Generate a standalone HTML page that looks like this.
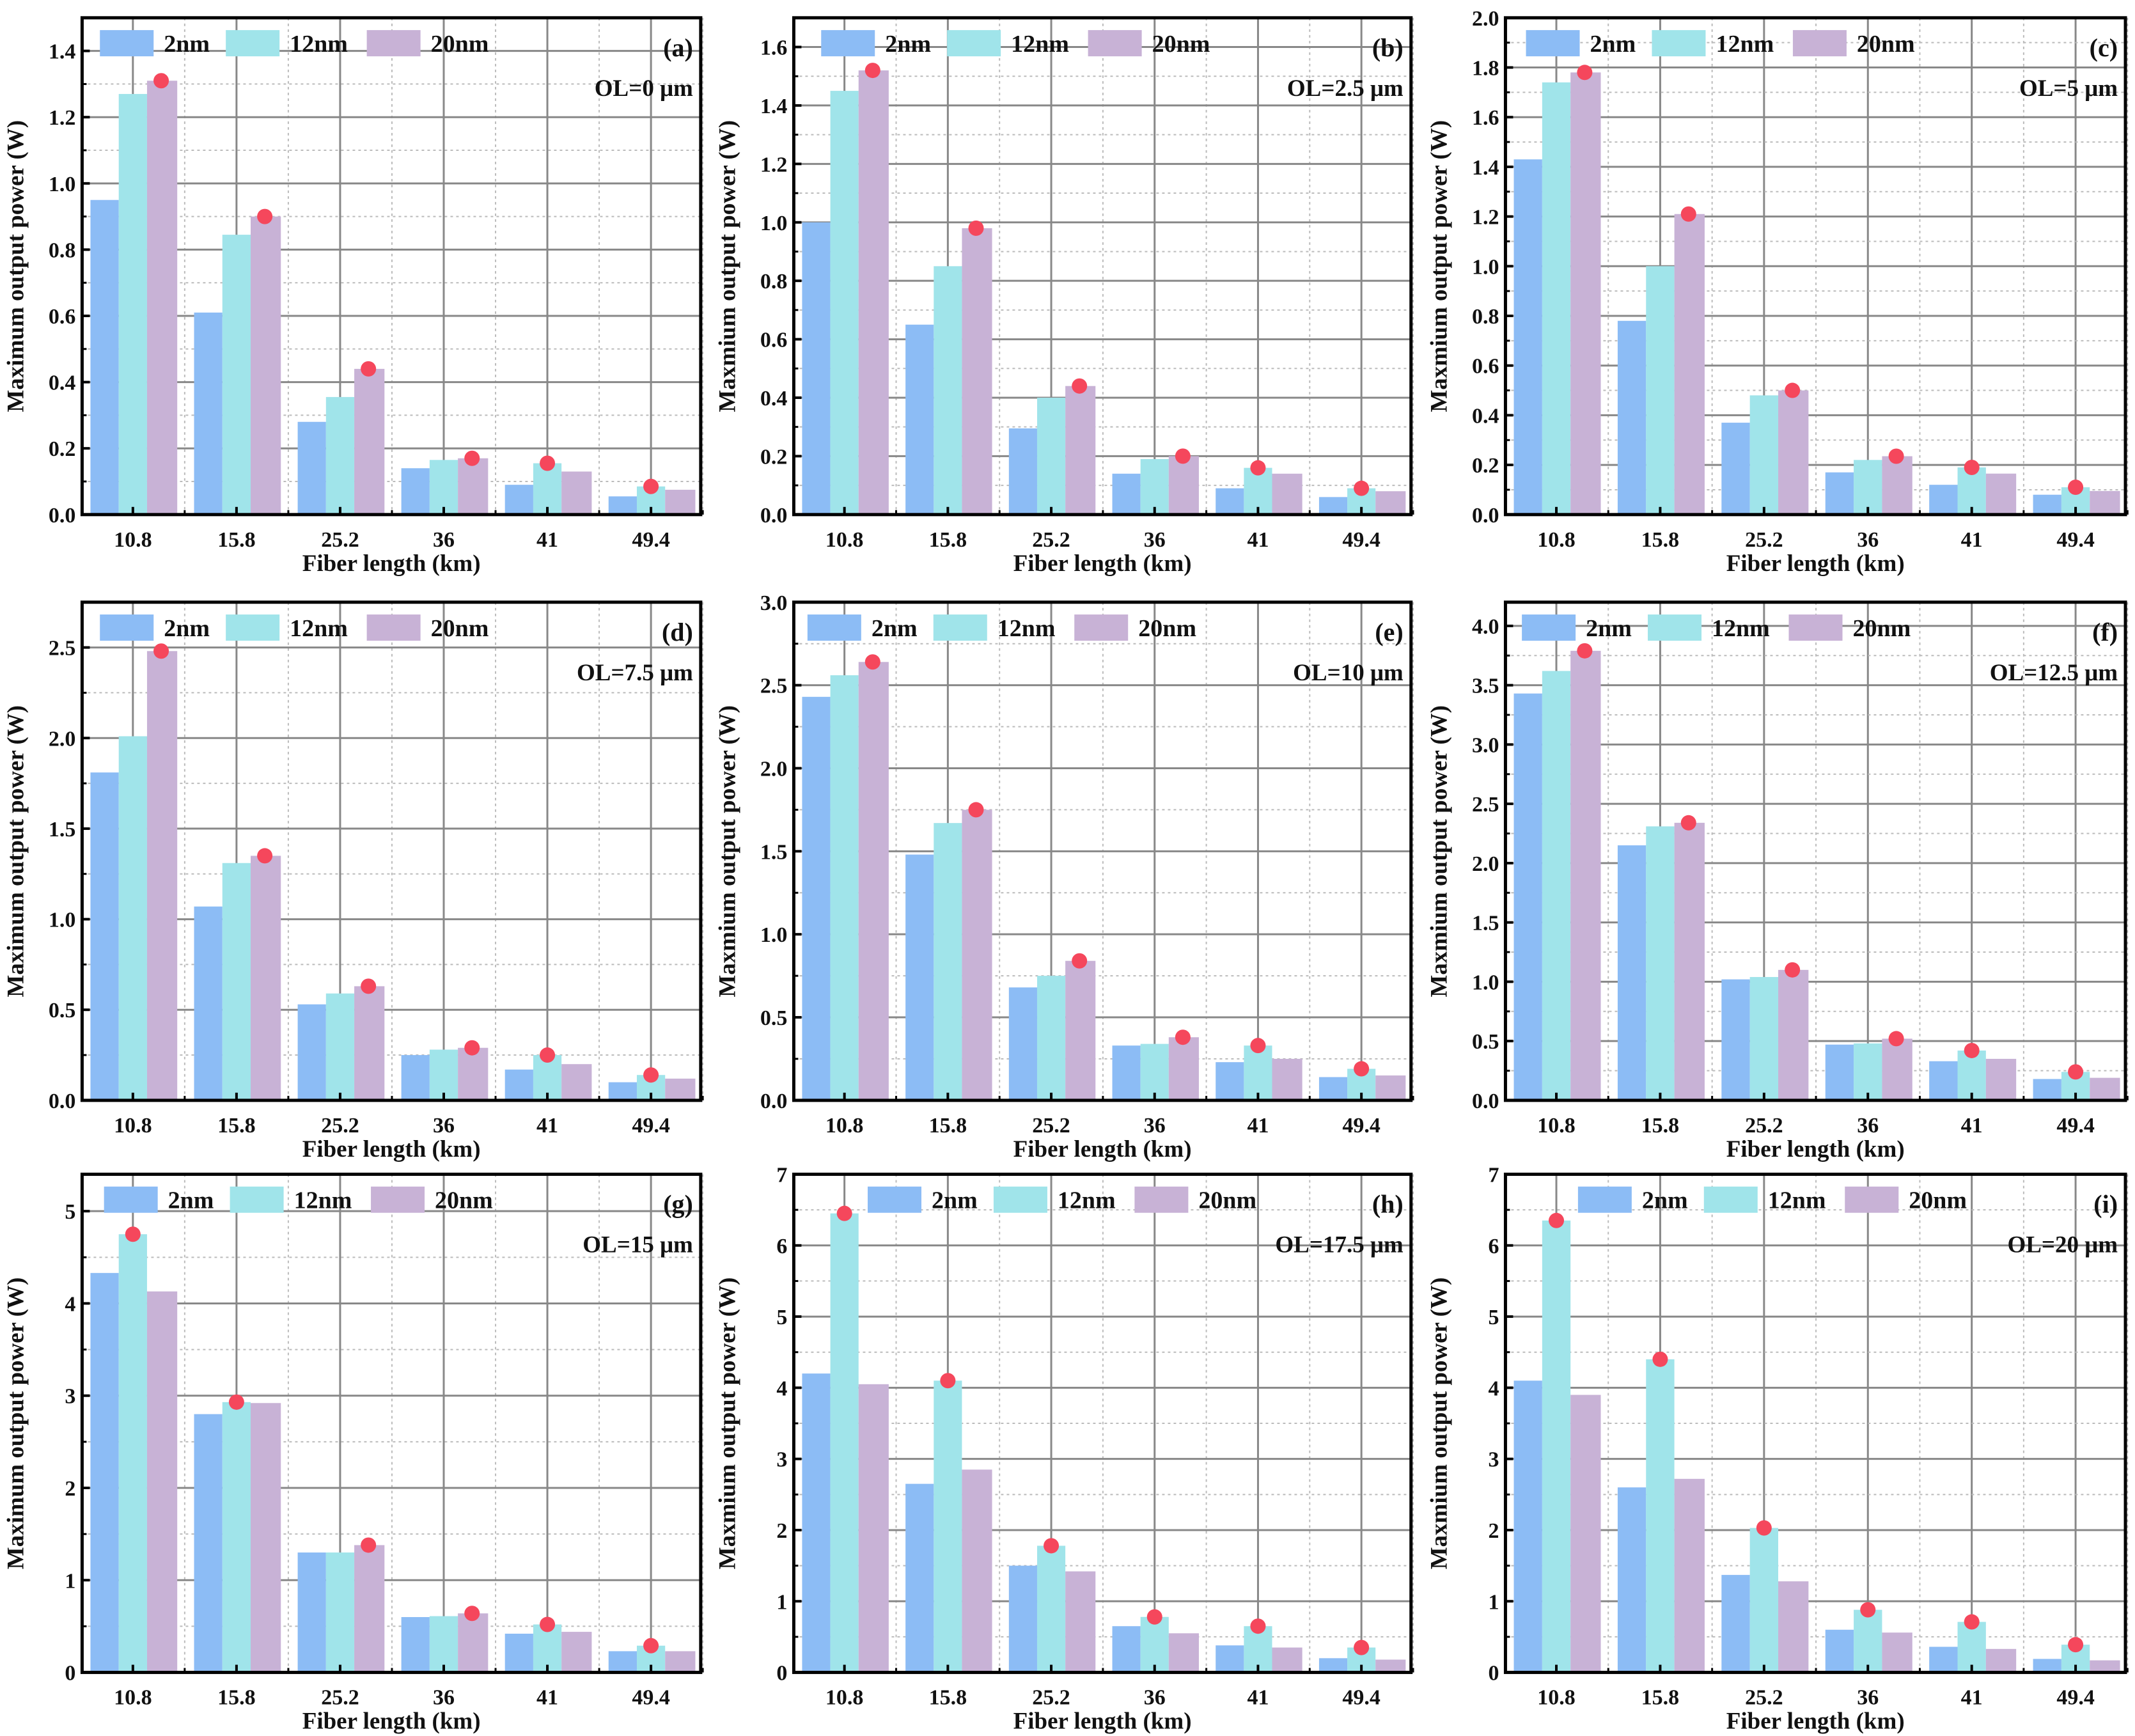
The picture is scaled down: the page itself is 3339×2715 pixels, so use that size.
<!DOCTYPE html>
<html><head><meta charset="utf-8"><style>
html,body{margin:0;padding:0;background:#fff}
svg{display:block}
text{font-family:"Liberation Serif",serif;font-weight:bold;fill:#111}
</style></head><body>
<svg id="fig" width="3339" height="2715" viewBox="0 0 3339 2715" xmlns="http://www.w3.org/2000/svg"></svg>
<script>
const categories = ["10.8","15.8","25.2","36","41","49.4"];
const seriesNames = ["2nm","12nm","20nm"];
const panelLabels = ["(a)","(b)","(c)","(d)","(e)","(f)","(g)","(h)","(i)"];
const olLabels = ["OL=0 μm","OL=2.5 μm","OL=5 μm","OL=7.5 μm","OL=10 μm","OL=12.5 μm","OL=15 μm","OL=17.5 μm","OL=20 μm"];
const yMaxes = [1.5,1.7,2.0,2.75,3.0,4.2,5.4,7,7];
const yStepsArr = [0.2,0.2,0.2,0.5,0.5,0.5,1,1,1];
const yTitles = ["Maximum","Maxmium","Maxmium","Maximum","Maxmium","Maxmium","Maximum","Maxmium","Maxmium"];
const s2nm = [
 [0.95,0.61,0.28,0.14,0.09,0.055],
 [1.0,0.65,0.295,0.14,0.09,0.06],
 [1.43,0.78,0.37,0.17,0.12,0.08],
 [1.81,1.07,0.53,0.25,0.17,0.10],
 [2.43,1.48,0.68,0.33,0.23,0.14],
 [3.43,2.15,1.02,0.47,0.33,0.18],
 [4.33,2.80,1.30,0.60,0.42,0.23],
 [4.2,2.65,1.5,0.65,0.38,0.20],
 [4.1,2.6,1.37,0.60,0.36,0.19]];
const s12nm = [
 [1.27,0.845,0.355,0.165,0.155,0.085],
 [1.45,0.85,0.40,0.19,0.16,0.09],
 [1.74,1.0,0.48,0.22,0.19,0.11],
 [2.01,1.31,0.59,0.28,0.25,0.14],
 [2.56,1.67,0.75,0.34,0.33,0.19],
 [3.62,2.31,1.04,0.48,0.42,0.24],
 [4.75,2.93,1.30,0.61,0.52,0.29],
 [6.45,4.1,1.78,0.78,0.65,0.35],
 [6.35,4.4,2.03,0.88,0.71,0.39]];
const s20nm = [
 [1.31,0.90,0.44,0.17,0.13,0.075],
 [1.52,0.98,0.44,0.20,0.14,0.08],
 [1.78,1.21,0.50,0.235,0.165,0.095],
 [2.48,1.35,0.63,0.29,0.20,0.12],
 [2.64,1.75,0.84,0.38,0.25,0.15],
 [3.79,2.34,1.10,0.52,0.35,0.19],
 [4.13,2.92,1.38,0.64,0.44,0.23],
 [4.05,2.85,1.42,0.55,0.35,0.18],
 [3.9,2.72,1.28,0.56,0.33,0.17]];
const legendOffsets = [13,20,15,13,10,12,16,54,53];

const S=2.1404;
const colors=["#8cbcf5","#a0e4ea","#c8b2d6"];
const colsX=[[60,512],[580,1031],[1100,1553]];
const rowsY=[[13,376],[440,804],[858,1222]];
const NS="http://www.w3.org/2000/svg";
const svg=document.getElementById('fig');
function el(tag,attrs,parent){const e=document.createElementNS(NS,tag);for(const k in attrs)e.setAttribute(k,attrs[k]);(parent||svg).appendChild(e);return e;}

for(let p=0;p<9;p++){
 const r=Math.floor(p/3),c=p%3;
 const L=colsX[c][0]*S,R=colsX[c][1]*S,T=rowsY[r][0]*S,B=rowsY[r][1]*S;
 const W=R-L,H=B-T;
 const g=el('g',{});
 
 
 const yMax=yMaxes[p],step=yStepsArr[p];
 const yS=v=>B-v/yMax*H;
 const band=W/5.97;
 const xC=i=>L+band*(0.49+i);
 const bw=band*0.273;
 for(let i=0;i<6;i++){
  el('line',{x1:xC(i),x2:xC(i),y1:T,y2:B,stroke:'#888','stroke-width':3},g);
  el('line',{x1:xC(i)+band/2,x2:xC(i)+band/2,y1:T,y2:B,stroke:'#bbb','stroke-width':2,'stroke-dasharray':'4,5'},g);
 }
 const nT=Math.floor(yMax/step+1e-6);
 for(let k=0;k<=nT;k++){
  const v=k*step;
  if(k>0) el('line',{x1:L,x2:R,y1:yS(v),y2:yS(v),stroke:'#888','stroke-width':3},g);
  if(v+step/2<yMax) el('line',{x1:L,x2:R,y1:yS(v+step/2),y2:yS(v+step/2),stroke:'#bbb','stroke-width':2,'stroke-dasharray':'4,5'},g);
  el('line',{x1:L,x2:L+12,y1:yS(v),y2:yS(v),stroke:'#000','stroke-width':4},g);
  if(v+step/2<yMax) el('line',{x1:L,x2:L+7,y1:yS(v+step/2),y2:yS(v+step/2),stroke:'#000','stroke-width':3},g);
  const t=el('text',{x:L-10,y:yS(v)+12,'text-anchor':'end','font-size':34},g);
  t.textContent=(step<1?v.toFixed(1):String(Math.round(v)));
  
  
 }
 const data=[s2nm[p],s12nm[p],s20nm[p]];
 for(let i=0;i<6;i++){
  let best=0,bi=0;
  for(let sI=0;sI<3;sI++){
   const v=data[sI][i];
   const x=xC(i)+(sI-1.5)*bw;
   const b=el('rect',{x:x,y:yS(v),width:bw+(sI==2?3:0),height:B-yS(v),fill:colors[sI]},g);
   
   
   if(v>best){best=v;bi=sI;}
  }
  const d=el('circle',{cx:xC(i)+(bi-1)*bw,cy:yS(best),r:12,fill:'#f5475c'},g);
  
  
  el('line',{x1:xC(i),x2:xC(i),y1:B,y2:B-12,stroke:'#000','stroke-width':4},g);
  el('line',{x1:xC(i)+band/2,x2:xC(i)+band/2,y1:B,y2:B-7,stroke:'#000','stroke-width':3},g);
  const t=el('text',{x:xC(i),y:B+50,'text-anchor':'middle','font-size':34},g);
  t.textContent=categories[i];
  
  
 }
 const f=el('rect',{x:L,y:T,width:W,height:H,fill:'none',stroke:'#000','stroke-width':5},g);
 
 
 const lx=L+legendOffsets[p]*S,ly=T+9*S;
 const offs=[0,92*S,195*S];
 for(let sI=0;sI<3;sI++){
  const lg=el('g',{},g);
  
  
  el('rect',{x:lx+offs[sI],y:ly,width:84,height:41,fill:colors[sI]},lg);
  const t=el('text',{x:lx+offs[sI]+100,y:ly+34,'font-size':38},lg);
  t.textContent=seriesNames[sI];
 }
 const pl=el('text',{x:R-12,y:T+60,'text-anchor':'end','font-size':40},g);
 pl.textContent=panelLabels[p];
 
 
 const ol=el('text',{x:R-12,y:T+122,'text-anchor':'end','font-size':37},g);
 ol.textContent=olLabels[p];
 
 
 const xt=el('text',{x:L+W/2,y:B+88,'text-anchor':'middle','font-size':37},g);
 xt.textContent='Fiber length (km)';
 
 
 const yx=L-92,yy=T+H/2;
 const yt=el('text',{x:yx,y:yy,'text-anchor':'middle','font-size':37,transform:'rotate(-90 '+yx+' '+yy+')'},g);
 yt.textContent=yTitles[p]+' output power (W)';
 
 
}
</script>
</body></html>
